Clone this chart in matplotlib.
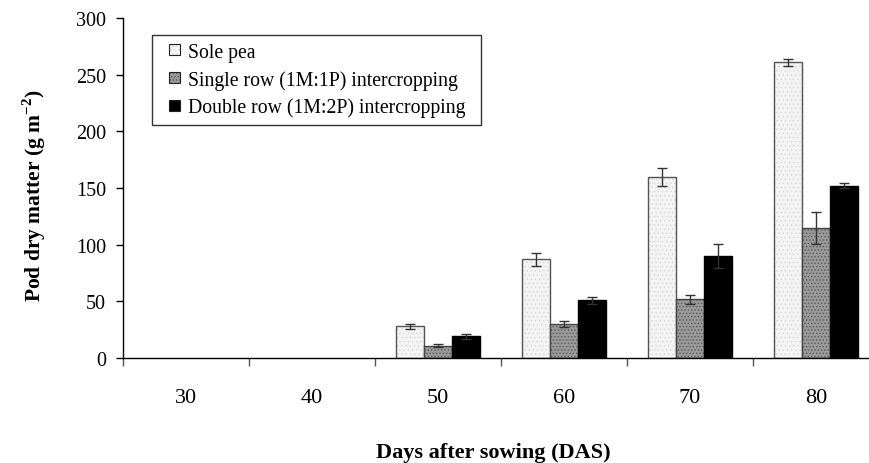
import matplotlib
matplotlib.use("Agg")
import matplotlib.pyplot as plt
import numpy as np
from matplotlib.legend_handler import HandlerPatch
from matplotlib.patches import Rectangle

plt.rcParams['font.family'] = ['Liberation Serif', 'DejaVu Serif']
plt.rcParams['hatch.linewidth'] = 0.6
plt.rcParams['mathtext.fontset'] = 'custom'
plt.rcParams['mathtext.rm'] = 'Liberation Serif'
plt.rcParams['mathtext.bf'] = 'Liberation Serif:bold'

days = ["30", "40", "50", "60", "70", "80"]
sole_pea = [0, 0, 28, 87, 160, 261]
sole_err = [0, 0, 2, 6, 8, 3]
single_row = [0, 0, 11, 30, 52, 115]
single_err = [0, 0, 1, 2.5, 4, 14]
double_row = [0, 0, 19, 51, 90, 152]
double_err = [0, 0, 2, 3, 11, 2]
series_names = ["Sole pea", "Single row (1M:1P) intercropping", "Double row (1M:2P) intercropping"]

fig = plt.figure(figsize=(8.69, 4.64), dpi=100)
ax = fig.add_axes([123/869, 1-359/464, 756/869, 340/464])

x = np.arange(len(days))
w = 0.222
ek = dict(ecolor='#333333', elinewidth=1.0, capsize=3.5, capthick=1.0)

def lw(vals):
    return [1.0 if v > 0 else 0 for v in vals]

styles = [
    dict(color='#f4f4f4', edgecolor='#555555', hatch='....', hc=(0.85, 0.85, 0.85, 1)),
    dict(color='#9a9a9a', edgecolor='#444444', hatch='.....', hc=(0.35, 0.35, 0.35, 1)),
    dict(color='black', edgecolor='black', hatch=None, hc=None),
]
values = [sole_pea, single_row, double_row]
errs = [sole_err, single_err, double_err]
offsets = [-w, 0, w]

handles = []
for vals, er, off, st, name in zip(values, errs, offsets, styles, series_names):
    bars = ax.bar(x + off, vals, w, color=st['color'], edgecolor=st['edgecolor'],
                  linewidth=lw(vals), hatch=st['hatch'])
    if st['hc'] is not None:
        for p in bars:
            p._hatch_color = st['hc']
    idx = [i for i in range(len(days)) if vals[i] > 0]
    ax.errorbar(x[idx] + off, [vals[i] for i in idx], yerr=[er[i] for i in idx], fmt='none', **ek)
    h = Rectangle((0, 0), 1, 1, facecolor=st['color'], edgecolor='#222222', linewidth=0.8,
                  hatch=st['hatch'], label=name)
    if st['hc'] is not None:
        h._hatch_color = st['hc']
    handles.append(h)

def square(legend, orig_handle, xdescent, ydescent, width, height, fontsize):
    s = 11 * 72 / 100
    return Rectangle((width - s - xdescent, -ydescent + (height - s) / 2), s, s)

ax.set_xlim(-0.5, len(days) - 0.5)
ax.set_ylim(0, 300)
ax.set_yticks(range(0, 301, 50))
ax.tick_params(axis='y', direction='out', length=5.3, width=1, labelsize=14.5, pad=7)
ax.set_xticks(np.arange(-0.5, len(days) - 0.5, 1.0))
ax.set_xticklabels([])
ax.tick_params(axis='x', direction='out', length=5.5, width=1, color='#555555')
ax.set_xticks(x, minor=True)
ax.set_xticklabels(days, minor=True)
ax.tick_params(axis='x', which='minor', length=0, labelsize=16, pad=21.5)

for s in ['top', 'right']:
    ax.spines[s].set_visible(False)
ax.spines['left'].set_linewidth(1.0)
ax.spines['bottom'].set_linewidth(1.0)

ax.set_ylabel('Pod dry matter (g m$^{\\mathbf{-2}}$)', fontsize=15.5, fontweight='bold')
ax.yaxis.set_label_coords((48 - 123) / 756, (359 - 196) / 340)
fig.text(493/869, 1-453/464, 'Days after sowing (DAS)', fontsize=16, fontweight='bold',
         ha='center', va='center')

leg = ax.legend(handles=handles, loc='upper left',
                bbox_to_anchor=((152 - 123) / 756, 1 - (36 - 19) / 340, 329 / 756, 0.0),
                mode='expand', fontsize=14.2,
                frameon=True, fancybox=False, edgecolor='black', handlelength=1.0,
                handleheight=0.7, handletextpad=0.4, borderpad=0.4, labelspacing=0.4,
                borderaxespad=0,
                handler_map={Rectangle: HandlerPatch(patch_func=square)})
leg.get_frame().set_linewidth(1.0)

fig.savefig('out.png', dpi=100)
